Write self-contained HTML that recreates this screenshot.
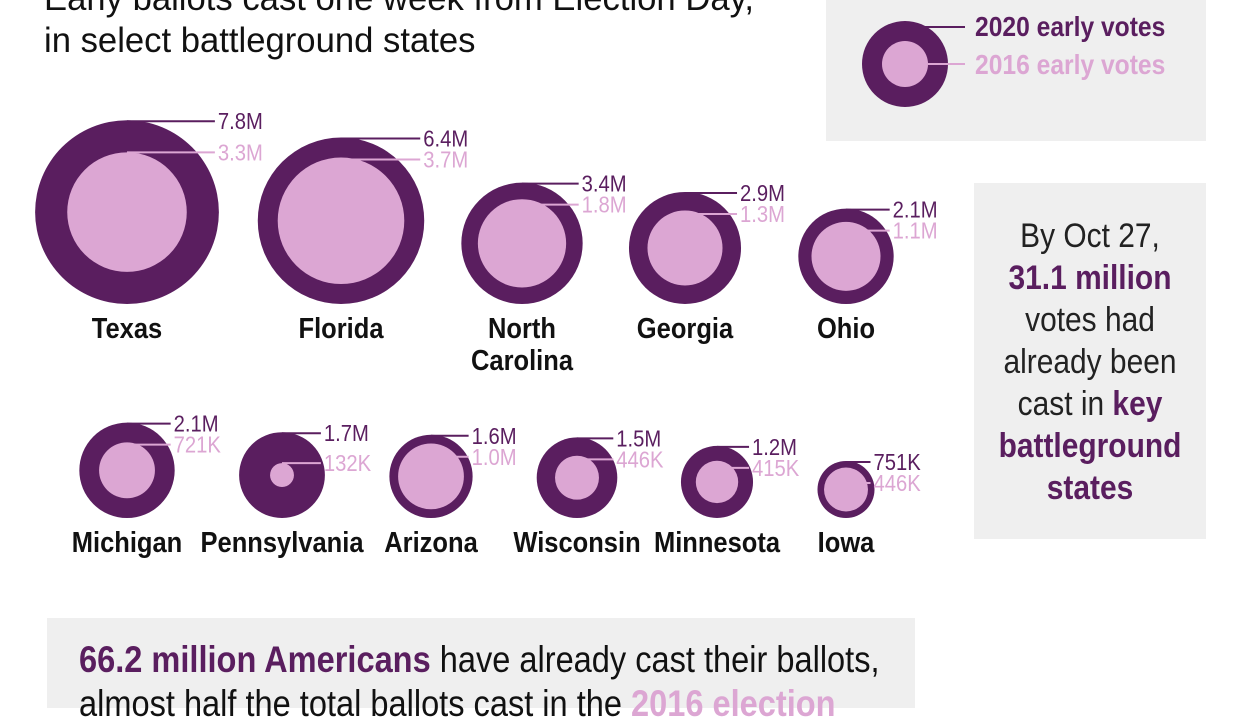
<!DOCTYPE html>
<html><head><meta charset="utf-8"><style>
body{margin:0;width:1245px;height:701px;overflow:hidden;background:#fff;font-family:"Liberation Sans",sans-serif;}
.t{position:absolute;white-space:nowrap}
</style></head><body>
<div class="t" style="left:44px;top:-22px;font-size:35px;line-height:42px;color:#111;transform:scaleX(0.99);transform-origin:0 0">Early ballots cast one week from Election Day,<br>in select battleground states</div>
<div style="position:absolute;left:826px;top:0;width:380px;height:141px;background:#efefef"></div>
<div style="position:absolute;left:974px;top:183px;width:232px;height:356px;background:#efefef;"></div>
<div class="t" style="left:940px;top:215px;width:300px;text-align:center;font-size:34px;line-height:42px;color:#222;transform:scaleX(0.88);transform-origin:150px 0;white-space:normal">By Oct 27,<br><b style="color:#5a1e5f">31.1 million</b><br>votes had<br>already been<br>cast in <b style="color:#5a1e5f">key</b><br><b style="color:#5a1e5f">battleground</b><br><b style="color:#5a1e5f">states</b></div>
<div style="position:absolute;left:47px;top:618px;width:868px;height:90px;background:#efefef"></div>
<div class="t" style="left:79px;top:638px;font-size:37px;line-height:44px;color:#111;transform:scaleX(0.88);transform-origin:0 0"><b style="color:#5a1e5f">66.2 million Americans</b> have already cast their ballots,<br>almost half the total ballots cast in the <b style="color:#dca6d3">2016 election</b></div>
<svg id="c" width="1245" height="701" style="position:absolute;left:0;top:0" font-family="Liberation Sans, sans-serif"></svg>
<script>
const states=["Texas","Florida","North Carolina","Georgia","Ohio","Michigan","Pennsylvania","Arizona","Wisconsin","Minnesota","Iowa"];
const votes2020=[7.8,6.4,3.4,2.9,2.1,2.1,1.7,1.6,1.5,1.2,0.751];
const votes2016=[3.3,3.7,1.8,1.3,1.1,0.721,0.132,1.0,0.446,0.415,0.446];
const labels2020=["7.8M","6.4M","3.4M","2.9M","2.1M","2.1M","1.7M","1.6M","1.5M","1.2M","751K"];
const labels2016=["3.3M","3.7M","1.8M","1.3M","1.1M","721K","132K","1.0M","446K","415K","446K"];
const centerX=[127,341,522,685,846,127,282,431,577,717,846];
const rowOf=[0,0,0,0,0,1,1,1,1,1,1];
const baseY=[304,518], nameY=[338,552];
const DARK="#5a1e5f",PINK="#dca6d3",SX=0.88;
const r=v=>32.9*Math.sqrt(v);
const svg=document.getElementById('c');
const NS="http://www.w3.org/2000/svg";
function mk(tag,attrs,parent){const e=document.createElementNS(NS,tag);for(const k in attrs)e.setAttribute(k,attrs[k]);(parent||svg).appendChild(e);return e;}
function txt(parent,x,y,attrs,s){const t=mk('text',Object.assign({x:0,y:0,transform:`translate(${x},${y}) scale(${SX},1)`},attrs),parent);t.textContent=s;return t;}
states.forEach((s,i)=>{
  const ro=r(votes2020[i]),ri=r(votes2016[i]);
  const cx=centerX[i],cy=baseY[rowOf[i]]-ro;
  const g=mk('g',{});
  
  
  const o=mk('circle',{cx:cx,cy:cy,r:ro,fill:DARK},g);
  
  
  const n=mk('circle',{cx:cx,cy:cy,r:ri,fill:PINK},g);
  
  
  const lx=cx+ro;
  const y1=cy-ro, y2=Math.max(cy-ri,y1+22);
  mk('line',{x1:cx,y1:y1+1,x2:lx-4,y2:y1+1,stroke:DARK,'stroke-width':2},g);
  mk('line',{x1:cx,y1:y2,x2:lx-4,y2:y2,stroke:PINK,'stroke-width':2},g);
  const t1=txt(g,lx-1,y1+9,{'font-size':23,fill:DARK},labels2020[i]);
  
  
  const t2=txt(g,lx-1,y2+8,{'font-size':23,fill:PINK},labels2016[i]);
  
  
  const parts=s==="North Carolina"?["North","Carolina"]:[s];
  parts.forEach((p,k)=>{const t=txt(g,cx,nameY[rowOf[i]]+k*32,{'font-size':29,'font-weight':'bold','text-anchor':'middle',fill:'#111'},p);
  
  });
});
const lg=mk('g',{});


mk('circle',{cx:905,cy:64,r:43,fill:DARK},lg);
mk('circle',{cx:905,cy:64,r:23,fill:PINK},lg);
mk('line',{x1:905,y1:27,x2:965,y2:27,stroke:DARK,'stroke-width':2},lg);
mk('line',{x1:928,y1:64,x2:965,y2:64,stroke:PINK,'stroke-width':2},lg);
txt(lg,975,36,{'font-size':28,'font-weight':'bold',fill:DARK},"2020 early votes");
txt(lg,975,74,{'font-size':28,'font-weight':'bold',fill:PINK},"2016 early votes");
</script>
</body></html>
